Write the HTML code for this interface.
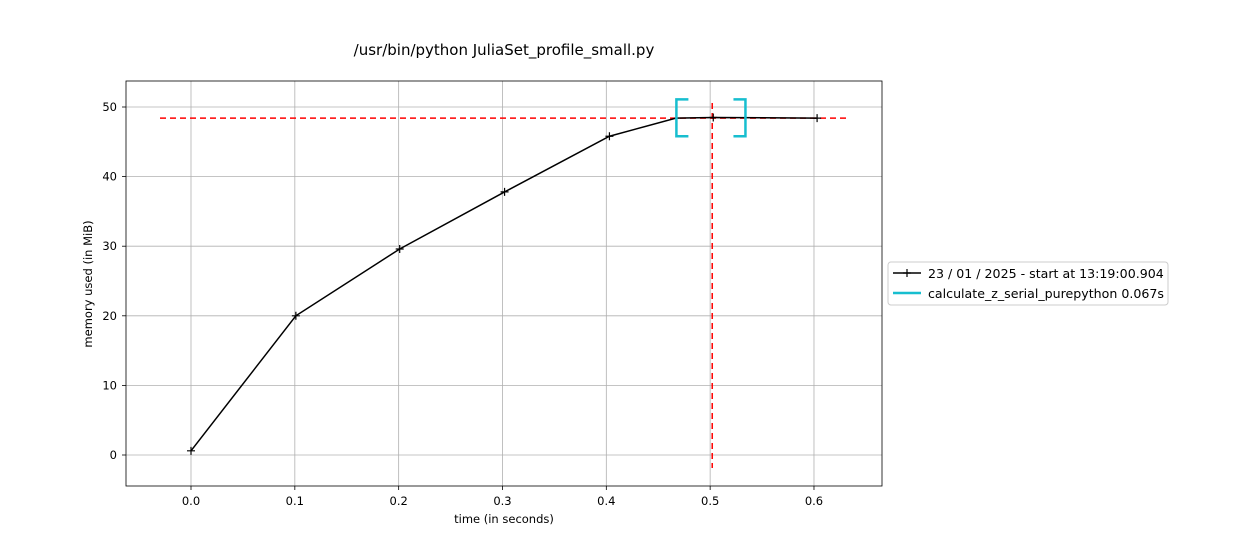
<!DOCTYPE html>
<html><head><meta charset="utf-8"><style>
body{margin:0;background:#fff;font-family:"Liberation Sans","DejaVu Sans",sans-serif;}
svg text{font-family:"DejaVu Sans","Liberation Sans",sans-serif;}
</style></head><body>
<svg id="c" width="1260" height="540" xmlns="http://www.w3.org/2000/svg"></svg>
<script>
const xTicks=[0.0,0.1,0.2,0.3,0.4,0.5,0.6];
const yTicks=[0,10,20,30,40,50];
const times=[0.0,0.101,0.201,0.302,0.403,0.467,0.503,0.603];
const mem=[0.6,20.0,29.6,37.8,45.8,48.4,48.5,48.4];
const markerTimes=[0.0,0.101,0.201,0.302,0.403,0.503,0.603];
const markerMem=[0.6,20.0,29.6,37.8,45.8,48.5,48.4];
const peakMem=[48.4];
const peakTime=[0.502];
const fnRange=[0.4675,0.534];
const fnMem=[45.8,51.1];
const NS="http://www.w3.org/2000/svg";
const svg=document.getElementById('c');
const X=v=>191+v*1038.3;
const Y=v=>455-v*6.96;
function add(tag,attrs,parent){const e=document.createElementNS(NS,tag);for(const k in attrs)e.setAttribute(k,attrs[k]);(parent||svg).appendChild(e);return e;}
function txt(s,x,y,anchor,size,name){const t=add('text',{x:x,y:y,'text-anchor':anchor,'font-size':size,fill:'#000'});t.textContent=s;


return t;}
xTicks.forEach(v=>{const l=add('line',{x1:X(v),x2:X(v),y1:81,y2:486,stroke:'#b0b0b0','stroke-width':0.8});


add('line',{x1:X(v),x2:X(v),y1:486,y2:490,stroke:'#000','stroke-width':0.8});
txt(v.toFixed(1),X(v),505,'middle',11.5,'x-tick-label');});
yTicks.forEach(v=>{const l=add('line',{x1:126,x2:882,y1:Y(v),y2:Y(v),stroke:'#b0b0b0','stroke-width':0.8});


add('line',{x1:122,x2:126,y1:Y(v),y2:Y(v),stroke:'#000','stroke-width':0.8});
txt(String(v),117,Y(v)+4,'end',11.5,'y-tick-label');});
const h=add('line',{x1:160,x2:848,y1:Y(peakMem[0]),y2:Y(peakMem[0]),stroke:'red','stroke-width':1.5,'stroke-dasharray':'6,4'});


const v=add('line',{x1:X(peakTime[0]),x2:X(peakTime[0]),y1:103,y2:468,stroke:'red','stroke-width':1.5,'stroke-dasharray':'6,4'});


const pl=add('polyline',{points:times.map((t,i)=>X(t)+','+Y(mem[i])).join(' '),fill:'none',stroke:'#000','stroke-width':1.5});


markerTimes.forEach((t,i)=>{const g=add('path',{d:`M${X(t)-4},${Y(markerMem[i])}h8M${X(t)},${Y(markerMem[i])-4}v8`,stroke:'#000','stroke-width':1.2});

});
const x0=X(fnRange[0]),x1=X(fnRange[1]),yt=Y(fnMem[1]),yb=Y(fnMem[0]);
const b1=add('path',{d:`M${x0+12},${yt}H${x0}V${yb}H${x0+12}`,fill:'none',stroke:'#17becf','stroke-width':2.5});


const b2=add('path',{d:`M${x1-12},${yt}H${x1}V${yb}H${x1-12}`,fill:'none',stroke:'#17becf','stroke-width':2.5});


const f=add('rect',{x:126,y:81,width:756,height:405,fill:'none',stroke:'#000','stroke-width':0.8});


txt('/usr/bin/python JuliaSet_profile_small.py',504,55,'middle',15,'chart-title');
txt('time (in seconds)',504,523,'middle',11.5,'x-axis-title');
const yt2=txt('memory used (in MiB)',0,0,'middle',11.5,'y-axis-title');yt2.setAttribute('transform','translate(92,284) rotate(-90)');
const lg=add('rect',{x:888,y:262,width:280,height:43,rx:3,fill:'#fff',stroke:'#ccc','stroke-width':1});


add('line',{x1:893,x2:921,y1:273,y2:273,stroke:'#000','stroke-width':1.5});
add('path',{d:'M903,273h8M907,269v8',stroke:'#000','stroke-width':1.2});
txt('23 / 01 / 2025 - start at 13:19:00.904',928,278,'start',12.6,'legend-entry-memory');
add('line',{x1:893,x2:921,y1:293,y2:293,stroke:'#17becf','stroke-width':2.5});
txt('calculate_z_serial_purepython 0.067s',928,298,'start',12.6,'legend-entry-function');
</script>
</body></html>
